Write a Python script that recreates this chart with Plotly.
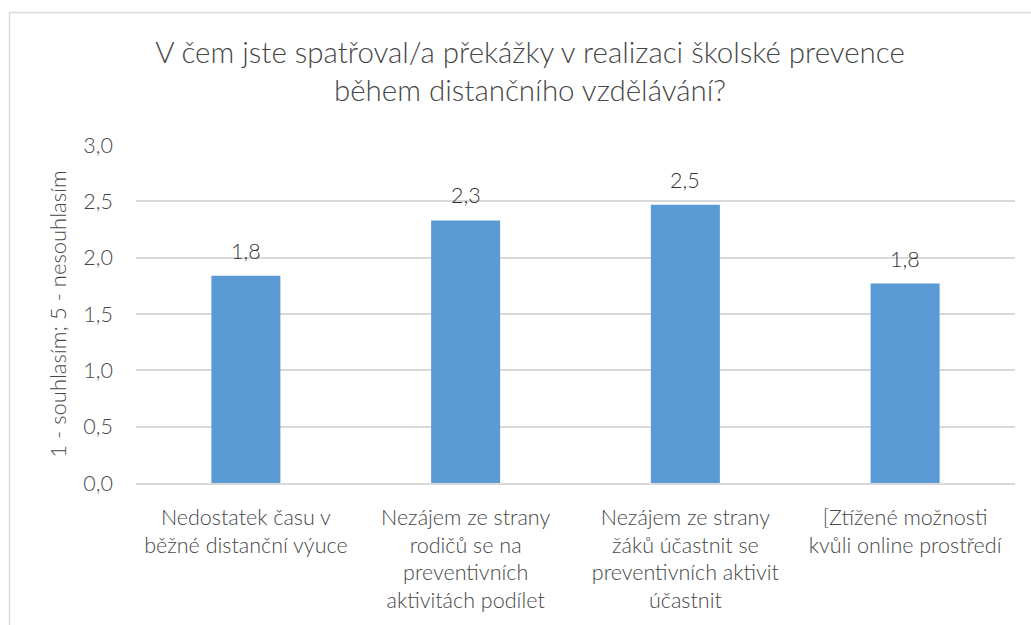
import plotly.graph_objects as go

categories = [
    "Nedostatek času v<br>běžné distanční výuce",
    "Nezájem ze strany<br>rodičů se na<br>preventivních<br>aktivitách podílet",
    "Nezájem ze strany<br>žáků účastnit se<br>preventivních aktivit<br>účastnit",
    "[Ztížené možnosti<br>kvůli online prostředí",
]
values = [1.84, 2.33, 2.47, 1.77]
y_ticks = [0, 0.5, 1.0, 1.5, 2.0, 2.5, 3.0]
y_tick_labels = ["0,0", "0,5", "1,0", "1,5", "2,0", "2,5", "3,0"]

title_text = "V čem jste spatřoval/a překážky v realizaci školské prevence<br>během distančního vzdělávání?"
y_title = "1 - souhlasím; 5 - nesouhlasím"

FONT = "Lato"
TXT = "#474747"

W, H = 1031, 625
L, R, T, B = 136, 16, 145, 142
pw, ph = W - L - R, H - T - B

def px_x(p):
    return (p - L) / pw

def px_y(p):
    return (H - B - p) / ph

fig = go.Figure()
fig.add_trace(go.Bar(
    x=list(range(len(categories))),
    y=values,
    marker=dict(color="#5B9BD5", line=dict(width=0)),
    width=0.314,
    hoverinfo="skip",
))

for i, v in enumerate(values):
    fig.add_annotation(
        x=i, y=v, xref="x", yref="y",
        text=f"{v:.1f}".replace(".", ","),
        showarrow=False, yanchor="bottom", yshift=10,
        font=dict(family=FONT, size=21.5, color="#333333", weight=300),
    )

fig.add_shape(
    type="rect", xref="paper", yref="paper",
    x0=px_x(9.5), x1=px_x(1040), y0=px_y(12.5), y1=px_y(640),
    line=dict(color="#D9D9D9", width=1.5), layer="below",
)

fig.update_layout(
    width=W, height=H,
    margin=dict(l=L, r=R, t=T, b=B),
    paper_bgcolor="white", plot_bgcolor="white",
    showlegend=False,
    separators=", ",
    title=dict(
        text=title_text, x=530 / W, xanchor="center",
        y=1 - 63 / H, yanchor="middle", yref="container",
        font=dict(family=FONT, size=29.5, color=TXT, weight=300),
    ),
    xaxis=dict(
        range=[-0.5, 3.5],
        tickmode="array", tickvals=list(range(len(categories))), ticktext=categories,
        tickfont=dict(family=FONT, size=21.5, color=TXT, weight=300),
        showgrid=False, zeroline=False,
        showline=True, linecolor="#D9D9D9", linewidth=1.5,
        ticks="", ticklabelstandoff=14,
    ),
    yaxis=dict(
        range=[0, 3.0],
        tickmode="array", tickvals=y_ticks, ticktext=y_tick_labels,
        tickfont=dict(family=FONT, size=21.5, color=TXT, weight=300),
        showgrid=True, gridcolor="#D9D9D9", gridwidth=1.5,
        zeroline=False, showline=False, ticks="",
        ticklabelstandoff=22,
        title=dict(text=y_title, font=dict(family=FONT, size=22, color=TXT, weight=300), standoff=10),
    ),
)

fig.write_html("out.html", config={"displayModeBar": False},
               post_script="document.body.style.margin='0';")
